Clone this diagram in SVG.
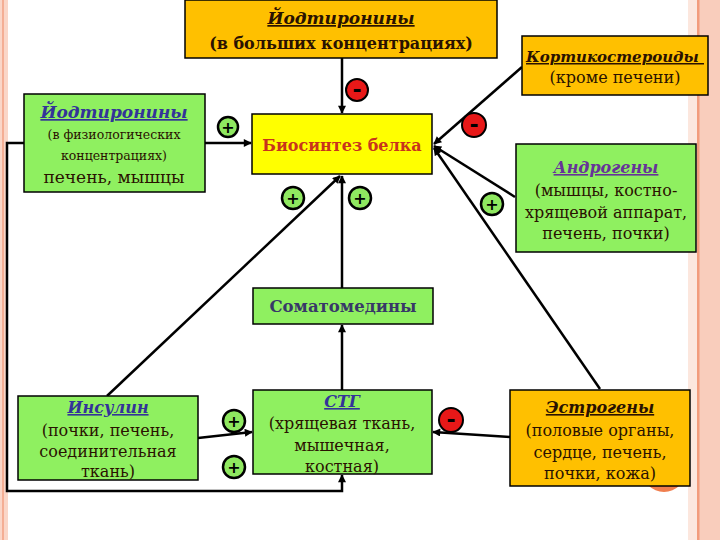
<svg xmlns="http://www.w3.org/2000/svg" width="720" height="540" viewBox="0 0 720 540">
<defs>
<marker id="arr" viewBox="0 0 10 10" refX="9" refY="5" markerWidth="9" markerHeight="8" markerUnits="userSpaceOnUse" orient="auto">
<path d="M0,0 L10,5 L0,10 z" fill="#000"/>
</marker>
</defs>
<style>
.box{stroke:#000;stroke-width:1.5}
.org{fill:#FFC000}
.grn{fill:#8FF060}
.yel{fill:#FFFF00}
.t{font-family:"DejaVu Serif","Liberation Serif",serif;text-anchor:middle}
.ttl{font-style:italic;font-weight:bold;text-decoration:underline}
.blue{fill:#333399}
.brn{fill:#2A1200}
.conn{stroke:#000;stroke-width:2.5;fill:none}
.plus{fill:#8FE860;stroke:#000;stroke-width:2.5}
.minus{fill:#E81818;stroke:#000;stroke-width:2}
.sgn{font-family:"DejaVu Sans",sans-serif;font-weight:bold;font-size:16px;text-anchor:middle;fill:#000}
.msgn{font-family:"DejaVu Sans",sans-serif;font-weight:bold;font-size:22px;text-anchor:middle;fill:#000}
</style>
<rect x="0" y="0" width="720" height="540" fill="#fff"/>
<rect x="0" y="0" width="8" height="540" fill="#FAD6C8"/>
<rect x="2" y="0" width="2" height="540" fill="#F4AE94"/>
<rect x="688" y="0" width="32" height="540" fill="#FCE7DE"/>
<rect x="697" y="0" width="23" height="540" fill="#F9CDBC"/>
<rect x="697" y="0" width="2.5" height="540" fill="#F29C7C"/>
<circle cx="664" cy="470" r="22" fill="#F07E4E"/>

<g id="connectors">
<path class="conn" d="M342 58 V113" marker-end="url(#arr)"/>
<path class="conn" d="M205 143 H251" marker-end="url(#arr)"/>
<path class="conn" d="M522 67 L434 144" marker-end="url(#arr)"/>
<path class="conn" d="M515 197 L434 146" marker-end="url(#arr)"/>
<path class="conn" d="M600 389 L434 148" marker-end="url(#arr)"/>
<path class="conn" d="M107 396 L340 176" marker-end="url(#arr)"/>
<path class="conn" d="M342 288 V176" marker-end="url(#arr)"/>
<path class="conn" d="M342 390 V325" marker-end="url(#arr)"/>
<path class="conn" d="M198 438 L252 432" marker-end="url(#arr)"/>
<path class="conn" d="M24 143 H7 V491 H342 V475" marker-end="url(#arr)"/>
<path class="conn" d="M510 437 L433 432" marker-end="url(#arr)"/>
</g>

<g id="signs">
<circle class="minus" cx="357" cy="90" r="11"/><text class="msgn" x="357" y="97">-</text>
<circle class="plus" cx="228" cy="127" r="10"/><text class="sgn" x="228" y="133">+</text>
<circle class="minus" cx="474" cy="125" r="12"/><text class="msgn" x="474" y="132">-</text>
<circle class="plus" cx="293" cy="198" r="11"/><text class="sgn" x="293" y="204">+</text>
<circle class="plus" cx="360" cy="198" r="11"/><text class="sgn" x="360" y="204">+</text>
<circle class="plus" cx="492" cy="204" r="11"/><text class="sgn" x="492" y="210">+</text>
<circle class="plus" cx="234" cy="421" r="11"/><text class="sgn" x="234" y="427">+</text>
<circle class="plus" cx="234" cy="467" r="11"/><text class="sgn" x="234" y="473">+</text>
<circle class="minus" cx="451" cy="420" r="12"/><text class="msgn" x="451" y="427">-</text>
</g>

<g id="iodo-high">
<rect class="box org" x="185" y="0" width="312" height="58"/>
<text class="t ttl brn" x="341" y="24" font-size="17">Йодтиронины</text>
<text class="t brn" x="341" y="49" font-size="16" font-weight="bold">(в больших концентрациях)</text>
</g>

<g id="iodo-phys">
<rect class="box grn" x="24" y="94" width="181" height="98"/>
<text class="t ttl blue" x="114" y="118" font-size="17">Йодтиронины</text>
<text class="t brn" x="114" y="139" font-size="12.5">(в физиологических</text>
<text class="t brn" x="114" y="160" font-size="12.5">концентрациях)</text>
<text class="t brn" x="114" y="183" font-size="17">печень, мышцы</text>
</g>

<g id="biosynthesis">
<rect class="box yel" x="252" y="114" width="180" height="60"/>
<text class="t" x="342" y="151" font-size="16" font-weight="bold" fill="#C8341C">Биосинтез белка</text>
</g>

<g id="cortico">
<rect class="box org" x="522" y="36" width="186" height="59"/>
<text class="t ttl brn" x="615" y="62" font-size="15" xml:space="preserve">Кортикостероиды </text>
<text class="t brn" x="615" y="83" font-size="16">(кроме печени)</text>
</g>

<g id="androgens">
<rect class="box grn" x="516" y="144" width="180" height="108"/>
<text class="t ttl" x="606" y="173" font-size="16" fill="#663399">Андрогены</text>
<text class="t brn" x="606" y="196" font-size="16">(мышцы, костно-</text>
<text class="t brn" x="606" y="218" font-size="16">хрящевой аппарат,</text>
<text class="t brn" x="606" y="239" font-size="16">печень, почки)</text>
</g>

<g id="somatomedins">
<rect class="box grn" x="253" y="288" width="180" height="36"/>
<text class="t" x="343" y="312" font-size="16.5" font-weight="bold" fill="#383868">Соматомедины</text>
</g>

<g id="insulin">
<rect class="box grn" x="18" y="396" width="180" height="84"/>
<text class="t ttl blue" x="108" y="413" font-size="16">Инсулин</text>
<text class="t brn" x="108" y="436" font-size="16">(почки, печень,</text>
<text class="t brn" x="108" y="457" font-size="16">соединительная</text>
<text class="t brn" x="108" y="477" font-size="16">ткань)</text>
</g>

<g id="stg">
<rect class="box grn" x="253" y="390" width="179" height="84"/>
<text class="t ttl blue" x="342" y="407" font-size="16">СТГ</text>
<text class="t brn" x="342" y="429" font-size="16">(хрящевая ткань,</text>
<text class="t brn" x="342" y="451" font-size="16">мышечная,</text>
<text class="t brn" x="342" y="472" font-size="16">костная)</text>
</g>

<g id="estrogens">
<rect class="box org" x="510" y="390" width="180" height="96"/>
<text class="t ttl brn" x="600" y="413" font-size="16">Эстрогены</text>
<text class="t brn" x="600" y="436" font-size="16">(половые органы,</text>
<text class="t brn" x="600" y="458" font-size="16">сердце, печень,</text>
<text class="t brn" x="600" y="479" font-size="16">почки, кожа)</text>
</g>
</svg>
